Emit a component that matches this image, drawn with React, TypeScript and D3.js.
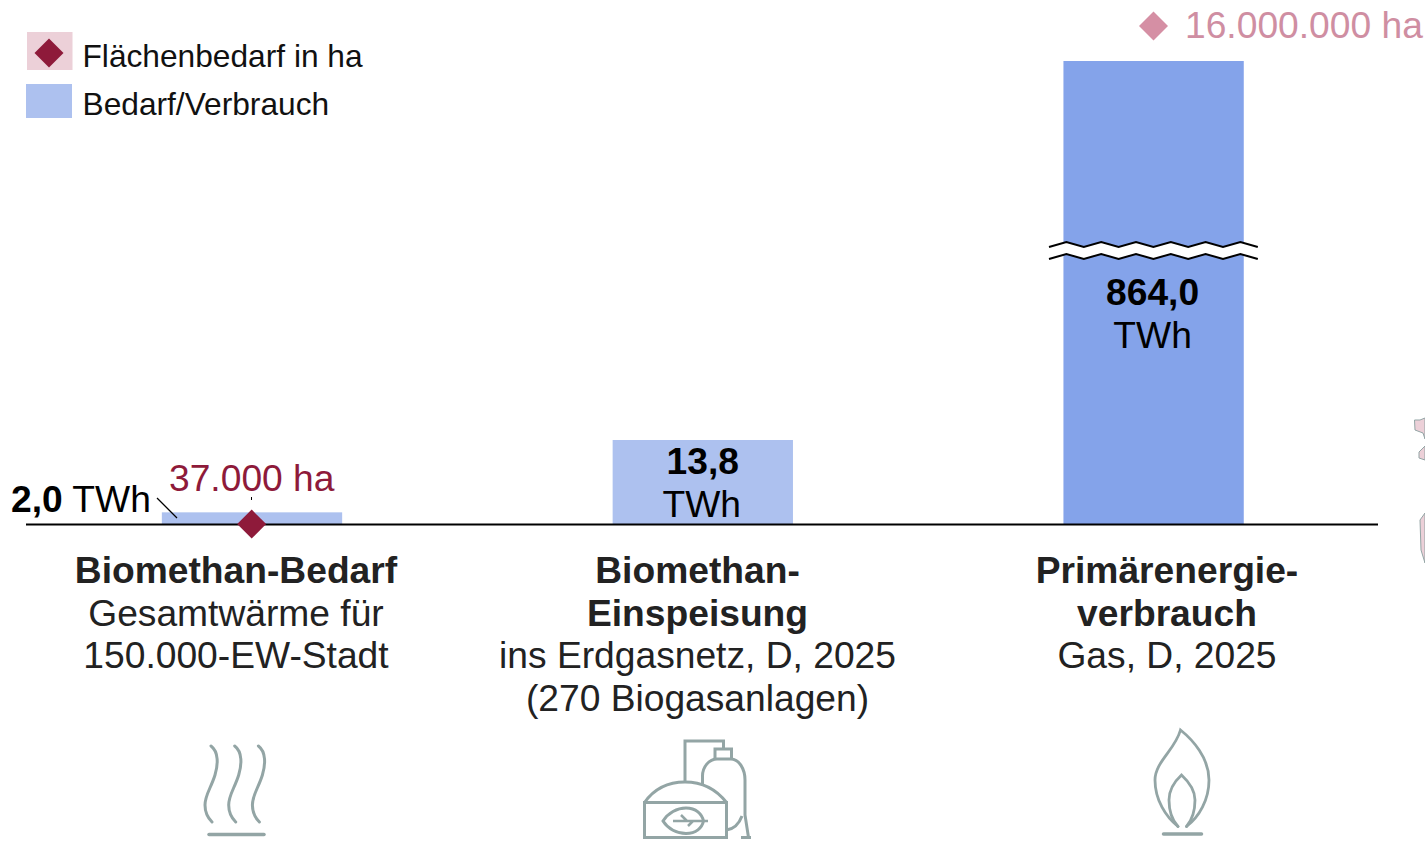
import * as d3 from 'd3';

const WIDTH = 1425;
const HEIGHT = 842;
const FONT = '"Liberation Sans", Arial, sans-serif';

const categories = ['Biomethan-Bedarf', 'Biomethan-Einspeisung', 'Primärenergieverbrauch'];
const twh = [2.0, 13.8, 864.0];
const twhLabels = ['2,0', '13,8', '864,0'];
const hectareLabels = ['37.000 ha', '16.000.000 ha'];
const boldLines = [['Biomethan-Bedarf'], ['Biomethan-', 'Einspeisung'], ['Primärenergie-', 'verbrauch']];
const plainLines = [
  ['Gesamtwärme für', '150.000-EW-Stadt'],
  ['ins Erdgasnetz, D, 2025', '(270 Biogasanlagen)'],
  ['Gas, D, 2025'],
];
const legendLabels = ['Flächenbedarf in ha', 'Bedarf/Verbrauch'];
// vertical wiggle of the axis break, one entry per kink
const breakWave = [0, -5, 0, -5, 0, -5, 0, -5, 0, -5, 0, -5, 0];

const BLUE_LIGHT = '#adc1ef';
const BLUE_DARK = '#84a3ea';
const WINE = '#8e1a3a';
const ROSE = '#d58fa4';
const ROSE_TEXT = '#cf8ea2';
const ROSE_BG = '#ecd0d8';
const ICON = '#93a5a5';
const BASE_Y = 524.6;

// band scale for the bars, piecewise y because the last bar is cut
const x = d3.scaleBand<string>().domain(categories).range([26.6, 1379]).paddingInner(0.6).paddingOuter(0.3);
const y = d3.scaleLinear().domain([0, 13.8, 864]).range([BASE_Y, 440, 61]);

const diamond = d3.symbol().type(d3.symbolSquare).size(420)() as string;
const waveLine = d3.line<number>().x((_, i) => 1049 + i * 17.4).y((d) => d);
const topWave = waveLine(breakWave.map((d) => 247 + d)) as string;
const bottomWave = waveLine(breakWave.map((d) => 259 + d)) as string;
// closed white band between the two wavy lines
const breakBand = d3
  .area<number>()
  .x((_, i) => 1049 + i * 17.4)
  .y0((d) => 247 + d)
  .y1((d) => 259 + d)(breakWave) as string;

function Diamond({ cx, cy, fill }: { cx: number; cy: number; fill: string }) {
  return <path d={diamond} transform={`translate(${cx},${cy}) rotate(45)`} fill={fill} />;
}

function SteamIcon() {
  return (
    <g fill="none" stroke={ICON} strokeWidth={3} strokeLinecap="round">
      {[0, 23.7, 47.4].map((dx) => (
        <path
          key={dx}
          transform={`translate(${dx},0)`}
          d="M211,746 C219,752 218,765 215,775 C211,788 205,795 205,805 C205,813 208,818 212,822"
        />
      ))}
      <path d="M209,834.5 H264" strokeWidth={3.5} />
    </g>
  );
}

function PlantIcon() {
  return (
    <g fill="none" stroke={ICON} strokeWidth={3}>
      <path d="M644.5,802.5 H726.5 V837.5 H644.5 Z" />
      <path d="M644.5,802.5 C654,789 668,782 685,782 C702,782 716,789 726.5,802.5" />
      <path d="M685,782 V741 H723.5 V749" />
      <path d="M715,758.5 V749 H731.5 V758.5" />
      <path d="M702.5,786 V776 C702.5,767 709,759 717,759 H731 C739,759 745,769 745,780 V815 L748.5,837.5" />
      <path d="M741,837.5 H751" />
      <path d="M726.5,830 C734,829 739,824 742,816" />
      <path d="M663,821 C668,813 677,808 686,808 C696,808 702,814 703.5,821 C702,828 696,833.5 686,833.5 C677,833.5 668,829 663,821 Z" />
      <path d="M673,821 H708 M681,815 L687,821 M688,826 L693,821" strokeWidth={2.5} />
    </g>
  );
}

function FlameIcon() {
  return (
    <g fill="none" stroke={ICON} strokeWidth={2.8} strokeLinecap="round">
      <path d="M1178,826.5 C1166,817 1155,800 1155,780 C1155,762 1175,750 1180.5,730 C1193,740 1209,758 1209,780 C1209,800 1199,817 1186.5,826.5" />
      <path d="M1178,826.5 C1172,820 1169,810 1169,800 C1169,790 1175,781 1181.5,775 C1188,781 1195,790 1195,800 C1195,810 1192,820 1186.5,826.5" />
      <path d="M1163.5,834 H1201.5" strokeWidth={3.5} />
    </g>
  );
}

export default function App() {
  const centers = categories.map((c) => (x(c) as number) + x.bandwidth() / 2);
  const labelCenters = [236, 697.5, 1167];
  const textProps = { fontFamily: FONT, fontSize: 37.2 };

  return (
    <svg
      width={WIDTH}
      height={HEIGHT}
      style={{ position: 'absolute', left: 0, top: 0, background: '#fff' }}
    >
      {/* legend */}
      <rect x={27} y={32} width={45.5} height={38} fill={ROSE_BG} />
      <Diamond cx={49} cy={53} fill={WINE} />
      <rect x={26} y={84} width={46} height={34} fill={BLUE_LIGHT} />
      {legendLabels.map((t, i) => (
        <text key={t} x={82.5} y={66.6 + i * 48} fontFamily={FONT} fontSize={31.7} fill="#111">
          {t}
        </text>
      ))}

      {/* bars */}
      {categories.map((c, i) => (
        <rect
          key={c}
          x={x(c)}
          y={y(twh[i])}
          width={x.bandwidth()}
          height={BASE_Y - y(twh[i])}
          fill={i === 2 ? BLUE_DARK : BLUE_LIGHT}
        />
      ))}

      {/* axis break on the tall bar */}
      <path d={breakBand} fill="#fff" />
      <path d={topWave} fill="none" stroke="#000" strokeWidth={2} />
      <path d={bottomWave} fill="none" stroke="#000" strokeWidth={2} />

      {/* baseline */}
      <line x1={26} x2={1378} y1={BASE_Y} y2={BASE_Y} stroke="#000" strokeWidth={2} />

      {/* value labels */}
      <text x={11} y={511.5} {...textProps} fill="#000">
        <tspan fontWeight="bold">{twhLabels[0]}</tspan> TWh
      </text>
      <line x1={157} y1={498} x2={177} y2={518} stroke="#000" strokeWidth={1.3} />
      {[1, 2].map((i) => (
        <g key={i} textAnchor="middle" {...textProps} fill="#000">
          <text x={centers[i] + (i === 1 ? 0 : -1)} y={i === 1 ? 473.5 : 305} fontWeight="bold">
            {twhLabels[i]}
          </text>
          <text x={centers[i] - 1} y={i === 1 ? 517 : 347.5}>
            TWh
          </text>
        </g>
      ))}

      {/* hectares */}
      <text x={169} y={490.5} {...textProps} fill={WINE}>
        {hectareLabels[0]}
      </text>
      <line x1={251.5} x2={251.5} y1={497} y2={500} stroke="#000" strokeWidth={1} />
      <Diamond cx={centers[0] - 0.3} cy={BASE_Y - 0.5} fill={WINE} />
      <text x={1185} y={38} {...textProps} fill={ROSE_TEXT}>
        {hectareLabels[1]}
      </text>
      <Diamond cx={1153.5} cy={26} fill={ROSE} />

      {/* category labels */}
      {categories.map((c, i) => {
        const lines = [...boldLines[i], ...plainLines[i]];
        return (
          <text key={c} textAnchor="middle" {...textProps} fill="#222">
            {lines.map((t, j) => (
              <tspan
                key={t}
                x={labelCenters[i]}
                y={583 + j * 42.5}
                fontWeight={j < boldLines[i].length ? 'bold' : 'normal'}
              >
                {t}
              </tspan>
            ))}
          </text>
        );
      })}

      <SteamIcon />
      <PlantIcon />
      <FlameIcon />

      {/* bits of a map cut off at the right edge */}
      <g fill={ROSE_BG} stroke={ICON} strokeWidth={1}>
        <path d="M1425,418 L1420,420 L1414.5,420 L1415,430 L1423,433 L1425,439 Z" />
        <path d="M1425,446 L1419,452 L1419,458 L1425,460 Z" />
        <path d="M1425,513 L1420,520 L1421,550 L1425,563 Z" />
      </g>
    </svg>
  );
}
